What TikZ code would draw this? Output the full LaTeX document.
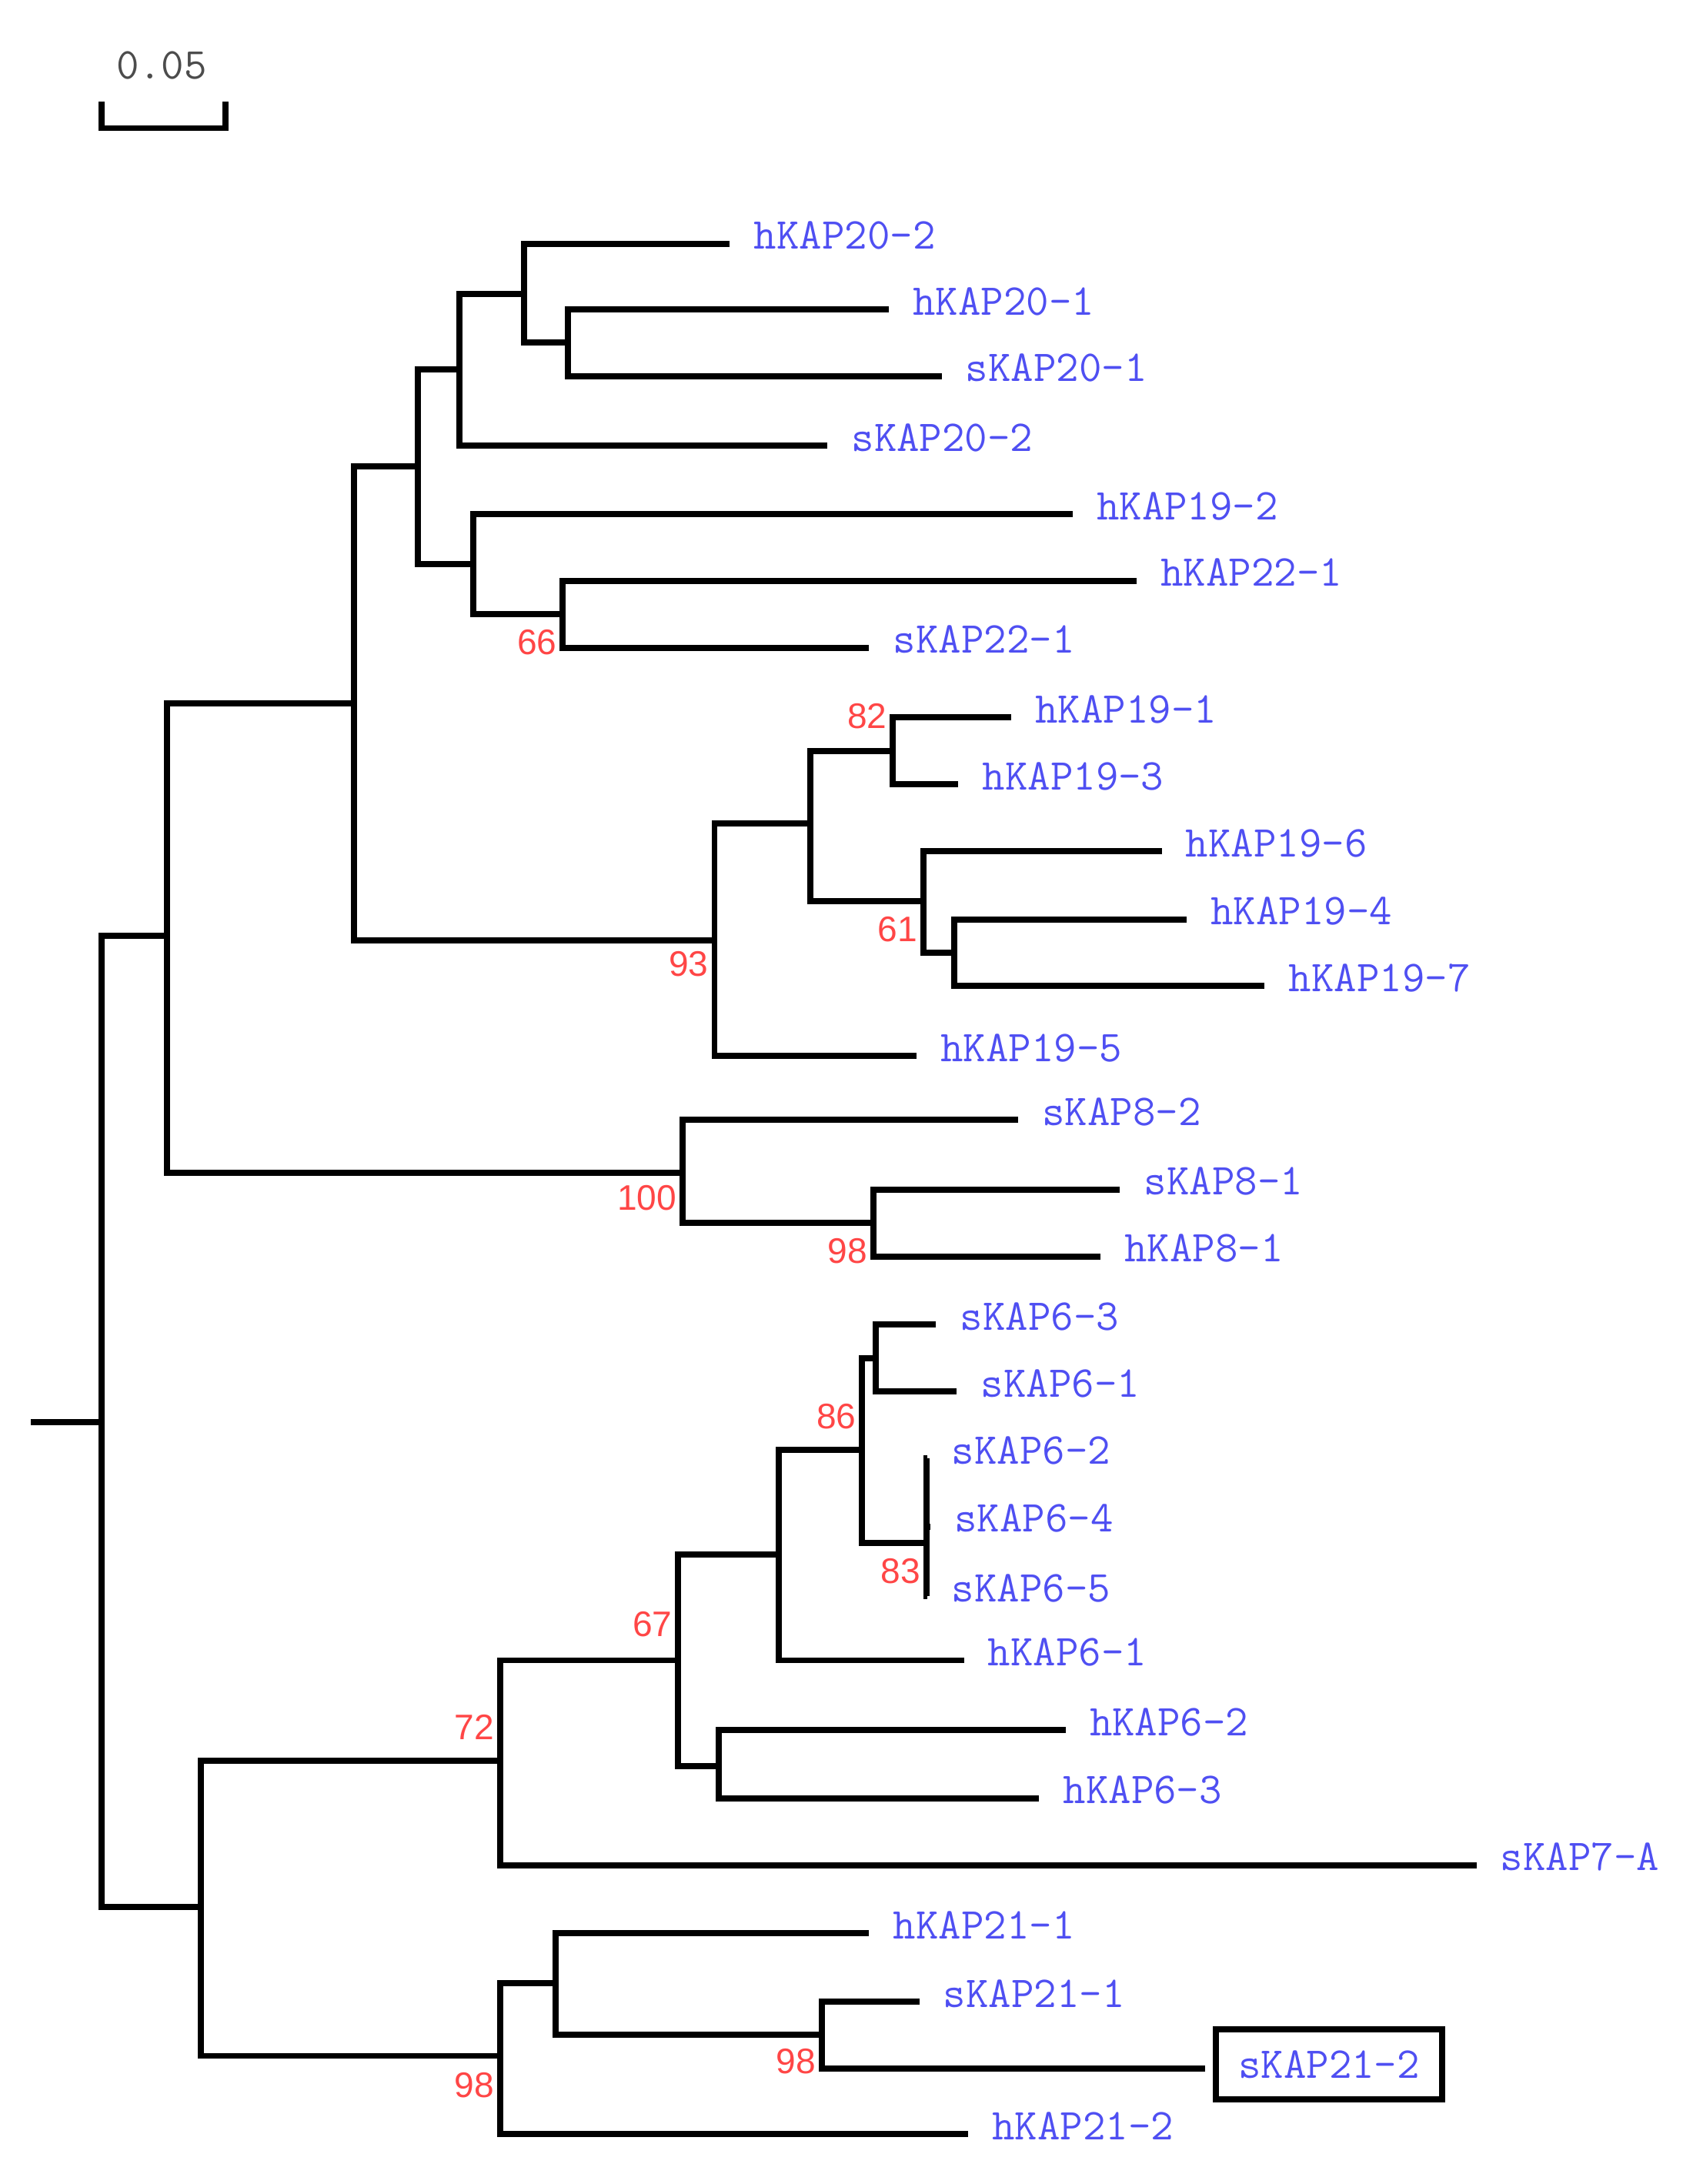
\documentclass[tikz,border=0pt]{standalone}
\usepackage{fontspec}
\newfontfamily\bsfont{Liberation Sans}
\definecolor{labblue}{HTML}{4F4FF2}
\definecolor{bsred}{HTML}{FF4646}
\tikzset{br/.style={line width=2.5pt},
  lf/.style={anchor=base west,inner sep=0pt,xshift=0.34cm,yshift=-0.08cm,text=labblue,font=\ttfamily\fontsize{18}{20}\selectfont},
  bs/.style={anchor=east,inner sep=0pt,text=bsred,font=\bsfont\fontsize{14.5}{17}\selectfont}}
\begin{document}
\begin{tikzpicture}[x=0.02cm,y=-0.02cm]
\useasboundingbox (0,0) rectangle (1215,1568);
% scale bar
\coordinate (sb1) at (73,73);\coordinate (sb2) at (162,73);
\draw[br] (sb1) -- ++(0,19) -| (sb2);
\node[font=\ttfamily\fontsize{18}{20}\selectfont,text=black!70] (sclab) at (116,47){0.05};
% inner nodes
\foreach \n/\x/\y in {root/73/1021,nA/120/672,nB/144/1369,nC/254/505,n8/490/842,nD/300/335,n19/513/675,nE/330/265,nF/340/405,nG/376/211,nH/408/246,nI/404/441,nJ/582/591,nK/641/539,nL/663/647,nM/685/684,nN/627/878,nP/359/1264,nQ/359/1476,nR/487/1192,nS/559/1116,nT/516/1268,nU/619/1041,nV/629/975,nW/665/1108,nX/399/1424,nY/590/1461}
  \coordinate (\n) at (\x,\y);
% tips
\foreach \n/\x/\y in {hKAP20-2/524/175,hKAP20-1/638/222,sKAP20-1/676/270,sKAP20-2/594/320,hKAP19-2/770/369,hKAP22-1/816/417,sKAP22-1/624/465,hKAP19-1/726/515,hKAP19-3/688/563,hKAP19-6/834/611,hKAP19-4/852/660,hKAP19-7/908/708,hKAP19-5/658/758,sKAP8-2/731/804,sKAP8-1/804/854,hKAP8-1/790/902,sKAP6-3/672/951,sKAP6-1/687/999,sKAP6-2/666/1047,sKAP6-4/668/1096,sKAP6-5/666/1146,hKAP6-1/692/1192,hKAP6-2/765/1242,hKAP6-3/746/1291,sKAP7-A/1060/1339,hKAP21-1/624/1388,sKAP21-1/660/1437,sKAP21-2/865/1485,hKAP21-2/695/1532}
  \coordinate (\n) at (\x,\y);
\coordinate (stub) at (22,1021);
\draw[br] (stub) -- (root);
\foreach \a/\b in {root/nA,root/nB,nA/nC,nA/n8,nC/nD,nC/n19,nD/nE,nD/nF,nE/nG,nE/sKAP20-2,nG/hKAP20-2,nG/nH,nH/hKAP20-1,nH/sKAP20-1,nF/hKAP19-2,nF/nI,nI/hKAP22-1,nI/sKAP22-1,n19/nJ,n19/hKAP19-5,nJ/nK,nJ/nL,nK/hKAP19-1,nK/hKAP19-3,nL/hKAP19-6,nL/nM,nM/hKAP19-4,nM/hKAP19-7,n8/sKAP8-2,n8/nN,nN/sKAP8-1,nN/hKAP8-1,nB/nP,nB/nQ,nP/nR,nP/sKAP7-A,nR/nS,nR/nT,nS/nU,nS/hKAP6-1,nU/nV,nU/nW,nV/sKAP6-3,nV/sKAP6-1,nW/sKAP6-2,nW/sKAP6-4,nW/sKAP6-5,nT/hKAP6-2,nT/hKAP6-3,nQ/nX,nQ/hKAP21-2,nX/hKAP21-1,nX/nY,nY/sKAP21-1,nY/sKAP21-2}
  \draw[br] (\a) |- (\b);
% tip labels
\foreach \n in {hKAP20-2,hKAP20-1,sKAP20-1,sKAP20-2,hKAP19-2,hKAP22-1,sKAP22-1,hKAP19-1,hKAP19-3,hKAP19-6,hKAP19-4,hKAP19-7,hKAP19-5,sKAP8-2,sKAP8-1,hKAP8-1,sKAP6-3,sKAP6-1,sKAP6-2,sKAP6-4,sKAP6-5,hKAP6-1,hKAP6-2,hKAP6-3,sKAP7-A,hKAP21-1,sKAP21-1,hKAP21-2}
  \node[lf] (lab-\n) at (\n){\n};
\node[lf,anchor=west,xshift=-0.22cm,yshift=0.14cm,draw=black,line width=2.5pt,minimum height=1cm,minimum width=3.24cm,inner xsep=0.2cm] (lab-sKAP21-2) at (sKAP21-2){sKAP21-2};
% bootstrap values
\foreach \n/\v/\d in {nI/66/20,nK/82/-25,n19/93/17,nL/61/20,n8/100/18,nN/98/20,nU/86/-24,nW/83/20,nR/67/-26,nP/72/-24,nQ/98/21,nY/98/19}
  \path (\n) ++(-4,\d) node[bs] (bs-\n){\v};
\end{tikzpicture}
\end{document}
